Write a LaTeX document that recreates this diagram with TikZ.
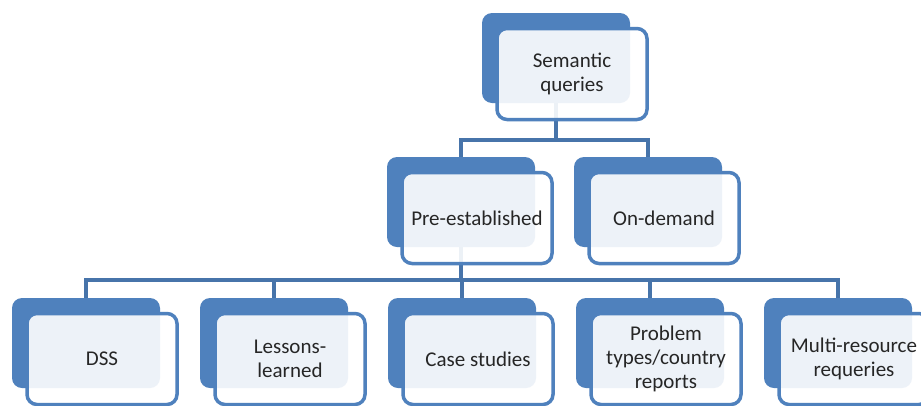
\documentclass[tikz,border=0pt]{standalone}
\usepackage{fontspec}
\setmainfont{Carlito}
\usepackage{tikz}
\usetikzlibrary{positioning}
\usepackage{xcolor}
\definecolor{smartblue}{HTML}{4F81BD}
\definecolor{smarttext}{HTML}{262626}

\begin{document}
\begin{tikzpicture}[
  x=1pt, y=-1pt,
  back_box/.style={
    fill=smartblue,
    rounded corners=10pt,
    minimum width=148pt,
    minimum height=90pt,
    inner sep=0pt,
  },
  front_box/.style={
    draw=smartblue,
    line width=3.5pt,
    fill=white,
    fill opacity=0.9,
    text opacity=1,
    rounded corners=10pt,
    minimum width=150pt,
    minimum height=91pt,
    inner sep=2pt,
    align=center,
    text=smarttext,
    font=\fontsize{21}{24}\selectfont,
  },
  link/.style={
    draw=smartblue!90!black,
    line width=3.5pt,
  }
  ]

  \clip (0,0) rectangle (921,405);
  \fill[white] (0,0) rectangle (921,405);

  % back shapes
  \node[back_box] (semanticb) at (556,58) {};
  \node[back_box] (preb) at (461,202) {};
  \node[back_box] (ondemandb) at (648,202) {};
  \node[back_box] (dssb) at (86,343) {};
  \node[back_box] (lessonsb) at (274,343) {};
  \node[back_box] (caseb) at (462,343) {};
  \node[back_box] (problemb) at (650,343) {};
  \node[back_box] (multib) at (838,343) {};

  % connectors
  \coordinate (bar1) at (0,140);
  \coordinate (bar2) at (0,280);
  \draw[link] (semanticb.south) -- (semanticb.south |- bar1);
  \draw[link] (preb.north) -- (preb.north |- bar1) -- (ondemandb.north |- bar1) -- (ondemandb.north);
  \draw[link] (preb.south) -- (preb.south |- bar2);
  \draw[link] (dssb.north) -- (dssb.north |- bar2) -- (multib.north |- bar2) -- (multib.north);
  \foreach \n in {lessonsb,caseb,problemb}
    \draw[link] (\n.north) -- (\n.north |- bar2);

  % front shapes with text
  \node[front_box] (semantic) at ([shift={(16,16)}]semanticb.center) {Semantic\\queries};
  \node[front_box] (pre) at ([shift={(16,16)}]preb.center) {Pre-established};
  \node[front_box] (ondemand) at ([shift={(16,16)}]ondemandb.center) {On-demand};
  \node[front_box] (dss) at ([shift={(16,16)}]dssb.center) {DSS};
  \node[front_box] (lessons) at ([shift={(16,16)}]lessonsb.center) {Lessons-\\learned};
  \node[front_box] (case) at ([shift={(16,16)}]caseb.center) {Case studies};
  \node[front_box] (problem) at ([shift={(16,16)}]problemb.center) {Problem\\types/country\\reports};
  \node[front_box] (multi) at ([shift={(16,16)}]multib.center) {Multi-resource\\requeries};

\end{tikzpicture}
\end{document}
